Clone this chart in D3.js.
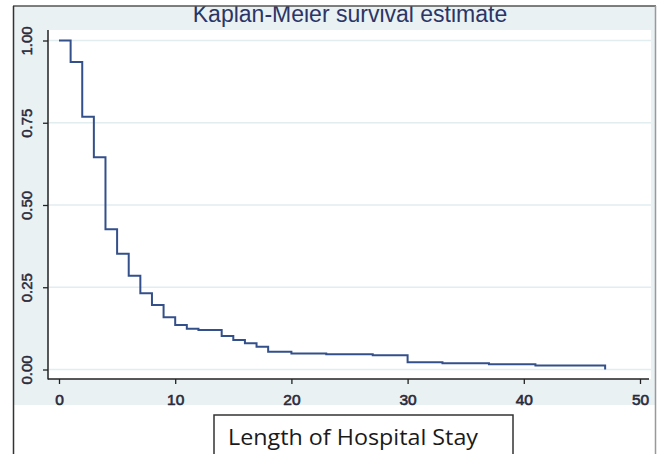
<!DOCTYPE html>
<html>
<head>
<meta charset="utf-8">
<script src="https://cdn.jsdelivr.net/npm/d3@7"></script>
<style>
  body { margin: 0; background: #fff; }
  svg { display: block; }
</style>
</head>
<body>
<script>
// Kaplan-Meier step data (days, survival)
const stayDays = [0, 1, 2, 3, 4, 5, 6, 7, 8, 9, 10, 11, 12, 14, 15, 16, 17, 18, 20, 23, 27, 30, 33, 37, 41, 47];
const survival = [1.0, 0.935, 0.768, 0.645, 0.426, 0.352, 0.285, 0.232, 0.196, 0.159, 0.135, 0.124, 0.120,
  0.102, 0.090, 0.080, 0.069, 0.054, 0.049, 0.046, 0.043, 0.022, 0.019, 0.016, 0.012, 0.0];
const xTicks = [0, 10, 20, 30, 40, 50];
const yTicks = [0, 0.25, 0.5, 0.75, 1];
const titleText = 'Kaplan-Meier survival estimate';
const xLabel = 'Length of Hospital Stay';

const W = 659, H = 454;
const svg = d3.select('body').append('svg')
  .attr('width', W)
  .attr('height', H);

// graph region
svg.append('rect')
  .attr('x', 13).attr('y', 6)
  .attr('width', 643).attr('height', 399)
  .attr('fill', '#e9f1f3');

// plot region
svg.append('rect')
  .attr('x', 48).attr('y', 30)
  .attr('width', 603).attr('height', 349)
  .attr('fill', '#fff');

const x = d3.scaleLinear().domain([0, 50]).range([59, 640]);
const y = d3.scaleLinear().domain([0, 1]).range([369.5, 40.5]);

// grid
svg.append('g')
  .selectAll('line')
  .data(yTicks)
  .join('line')
  .attr('x1', 49).attr('x2', 651)
  .attr('y1', d => y(d)).attr('y2', d => y(d))
  .attr('stroke', '#e2edf0')
  .attr('stroke-width', 1.4);

const tickFont = '"Liberation Sans", Arial, sans-serif';

// axes
const xAxis = d3.axisBottom(x)
  .tickValues(xTicks)
  .tickSize(5)
  .tickFormat(d3.format('d'));

const gx = svg.append('g')
  .attr('transform', 'translate(0,379)')
  .call(xAxis);
gx.select('.domain').attr('d', 'M48,0H649').attr('stroke', '#222').attr('stroke-width', 1.5);
gx.selectAll('.tick line').attr('stroke', '#222').attr('stroke-width', 1.3);
gx.selectAll('.tick text')
  .attr('y', 14.5)
  .attr('dy', '0.71em')
  .style('font-family', tickFont)
  .style('font-size', '15.5px')
  .attr('fill', '#2a2a3a')
  .attr('stroke', '#2a2a3a')
  .attr('stroke-width', 0.6);

const yAxis = d3.axisLeft(y)
  .tickValues(yTicks)
  .tickSize(5)
  .tickFormat(d3.format('.2f'));

const gy = svg.append('g')
  .attr('transform', 'translate(48,0)')
  .call(yAxis);
gy.select('.domain').attr('d', 'M0,30V379.5').attr('stroke', '#222').attr('stroke-width', 1.5);
gy.selectAll('.tick line').attr('stroke', '#222').attr('stroke-width', 1.3);
gy.selectAll('.tick text')
  .attr('x', 0).attr('y', 0)
  .attr('dy', '0.36em')
  .attr('text-anchor', 'middle')
  .attr('transform', 'translate(-21,0) rotate(-90)')
  .style('font-family', tickFont)
  .style('font-size', '15px')
  .attr('fill', '#2a2a3a')
  .attr('stroke', '#2a2a3a')
  .attr('stroke-width', 0.5);

// survival curve
const line = d3.line()
  .x(d => x(d[0]))
  .y(d => y(d[1]))
  .curve(d3.curveStepAfter);

svg.append('path')
  .datum(stayDays.map((t, i) => [t, survival[i]]))
  .attr('d', line)
  .attr('fill', 'none')
  .attr('stroke', '#34508a')
  .attr('stroke-width', 2);

// title (clipped at top by frame)
svg.append('text')
  .attr('x', 350)
  .attr('y', 21.5)
  .attr('text-anchor', 'middle')
  .style('font-family', '"Liberation Sans", Arial, sans-serif')
  .style('font-size', '23px')
  .attr('fill', '#2c3566')
  .text(titleText);

// cover above frame
svg.append('rect')
  .attr('x', 0).attr('y', 0)
  .attr('width', W).attr('height', 6)
  .attr('fill', '#fff');

// frame lines
svg.append('line')
  .attr('x1', 13).attr('x2', 656).attr('y1', 6).attr('y2', 6)
  .attr('stroke', '#555').attr('stroke-width', 1.5);
svg.append('line')
  .attr('x1', 13.5).attr('x2', 13.5).attr('y1', 6).attr('y2', H)
  .attr('stroke', '#333').attr('stroke-width', 1.5);
svg.append('line')
  .attr('x1', 655.5).attr('x2', 655.5).attr('y1', 6).attr('y2', H)
  .attr('stroke', '#999').attr('stroke-width', 1.5);

// x label box
svg.append('rect')
  .attr('x', 214).attr('y', 415)
  .attr('width', 299).attr('height', 60)
  .attr('fill', '#fff')
  .attr('stroke', '#333')
  .attr('stroke-width', 1.5);

svg.append('text')
  .attr('x', 228)
  .attr('y', 445)
  .attr('textLength', 250)
  .attr('lengthAdjust', 'spacingAndGlyphs')
  .style('font-family', '"Open Sans", Lato, sans-serif')
  .style('font-size', '21.5px')
  .attr('fill', '#1a1a1a')
  .text(xLabel);
</script>
</body>
</html>
